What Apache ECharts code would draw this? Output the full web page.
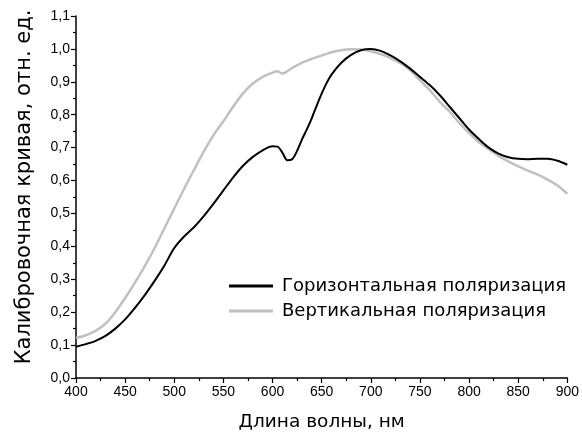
<!DOCTYPE html>
<html>
<head>
<meta charset="utf-8">
<script src="https://cdn.jsdelivr.net/npm/echarts@6/dist/echarts.min.js"></script>
<style>
  html, body { margin: 0; padding: 0; background: #fff; }
  #chart { width: 582px; height: 437px; }
</style>
</head>
<body>
<div id="chart"></div>
<script>
// длины волн, нм
var wavelengths = [400,410,420,430,440,450,460,470,480,490,500,510,520,530,540,550,560,570,580,590,600,605,610,615,620,625,630,635,640,645,650,655,660,670,680,690,700,710,720,730,740,750,760,770,780,790,800,810,820,830,840,850,860,870,880,890,900];
// горизонтальная поляризация
var horizontal = [0.095,0.103,0.113,0.128,0.150,0.178,0.213,0.252,0.295,0.342,0.395,0.430,0.458,0.492,0.530,0.570,0.610,0.645,0.672,0.692,0.704,0.703,0.685,0.662,0.665,0.690,0.725,0.756,0.790,0.828,0.864,0.896,0.922,0.958,0.982,0.996,1.000,0.994,0.980,0.962,0.940,0.915,0.890,0.860,0.825,0.790,0.755,0.726,0.700,0.682,0.671,0.666,0.665,0.666,0.666,0.660,0.648];
// вертикальная поляризация
var vertical = [0.122,0.130,0.143,0.165,0.200,0.243,0.290,0.340,0.395,0.455,0.515,0.575,0.632,0.688,0.738,0.780,0.825,0.865,0.895,0.915,0.928,0.932,0.925,0.932,0.942,0.950,0.958,0.964,0.970,0.975,0.980,0.985,0.990,0.996,0.999,0.998,0.993,0.984,0.972,0.957,0.935,0.905,0.875,0.840,0.810,0.775,0.745,0.717,0.695,0.675,0.658,0.643,0.630,0.618,0.603,0.585,0.560];

function pairs(vals) {
  return wavelengths.map(function (w, i) { return [w, vals[i]]; });
}

var font = 'Liberation Sans, Arial, sans-serif';
var wide = 'DejaVu Sans, sans-serif';
var chart = echarts.init(document.getElementById('chart'));
chart.setOption({
  animation: false,
  grid: { left: 76, right: 13, top: 16, bottom: 56 },
  legend: {
    orient: 'vertical',
    left: 229,
    top: 277,
    padding: 0,
    icon: 'rect',
    itemWidth: 44,
    itemHeight: 3,
    itemGap: 7,
    textStyle: { fontFamily: wide, fontSize: 18, color: '#000', padding: [0, 0, 0, 4] },
    data: ['Горизонтальная поляризация', 'Вертикальная поляризация']
  },
  xAxis: {
    type: 'value',
    min: 400, max: 900, interval: 50,
    name: 'Длина волны, нм',
    nameLocation: 'middle',
    nameGap: 35,
    nameTextStyle: { fontFamily: wide, fontSize: 18.5, color: '#000' },
    axisLine: { onZero: false, lineStyle: { color: '#000', width: 1.5 } },
    axisTick: { inside: false, length: 5, lineStyle: { color: '#000', width: 1.2 } },
    minorTick: { show: true, splitNumber: 2, length: 3, lineStyle: { color: '#000', width: 1.2 } },
    axisLabel: { fontFamily: font, fontSize: 14, color: '#000', margin: 7 },
    splitLine: { show: false }
  },
  yAxis: {
    type: 'value',
    min: 0, max: 1.1, interval: 0.1,
    name: 'Калибровочная кривая, отн. ед.',
    nameLocation: 'middle',
    nameGap: 41,
    nameRotate: 90,
    nameTextStyle: { fontFamily: wide, fontSize: 21, color: '#000', padding: [0, 0, 0, 20] },
    axisLine: { onZero: false, lineStyle: { color: '#000', width: 1.5 } },
    axisTick: { inside: false, length: 5, lineStyle: { color: '#000', width: 1.2 } },
    minorTick: { show: true, splitNumber: 2, length: 3, lineStyle: { color: '#000', width: 1.2 } },
    axisLabel: {
      fontFamily: font, fontSize: 14, color: '#000', margin: 6,
      formatter: function (v) { return v.toFixed(1).replace('.', ','); }
    },
    splitLine: { show: false }
  },
  series: [
    {
      name: 'Горизонтальная поляризация',
      type: 'line',
      data: pairs(horizontal),
      smooth: 0.3,
      showSymbol: false,
      color: '#000',
      lineStyle: { color: '#000', width: 2 },
      z: 3
    },
    {
      name: 'Вертикальная поляризация',
      type: 'line',
      data: pairs(vertical),
      smooth: 0.3,
      showSymbol: false,
      color: '#c0c0c0',
      lineStyle: { color: '#c0c0c0', width: 2.5 },
      z: 2
    }
  ]
});
</script>
</body>
</html>
